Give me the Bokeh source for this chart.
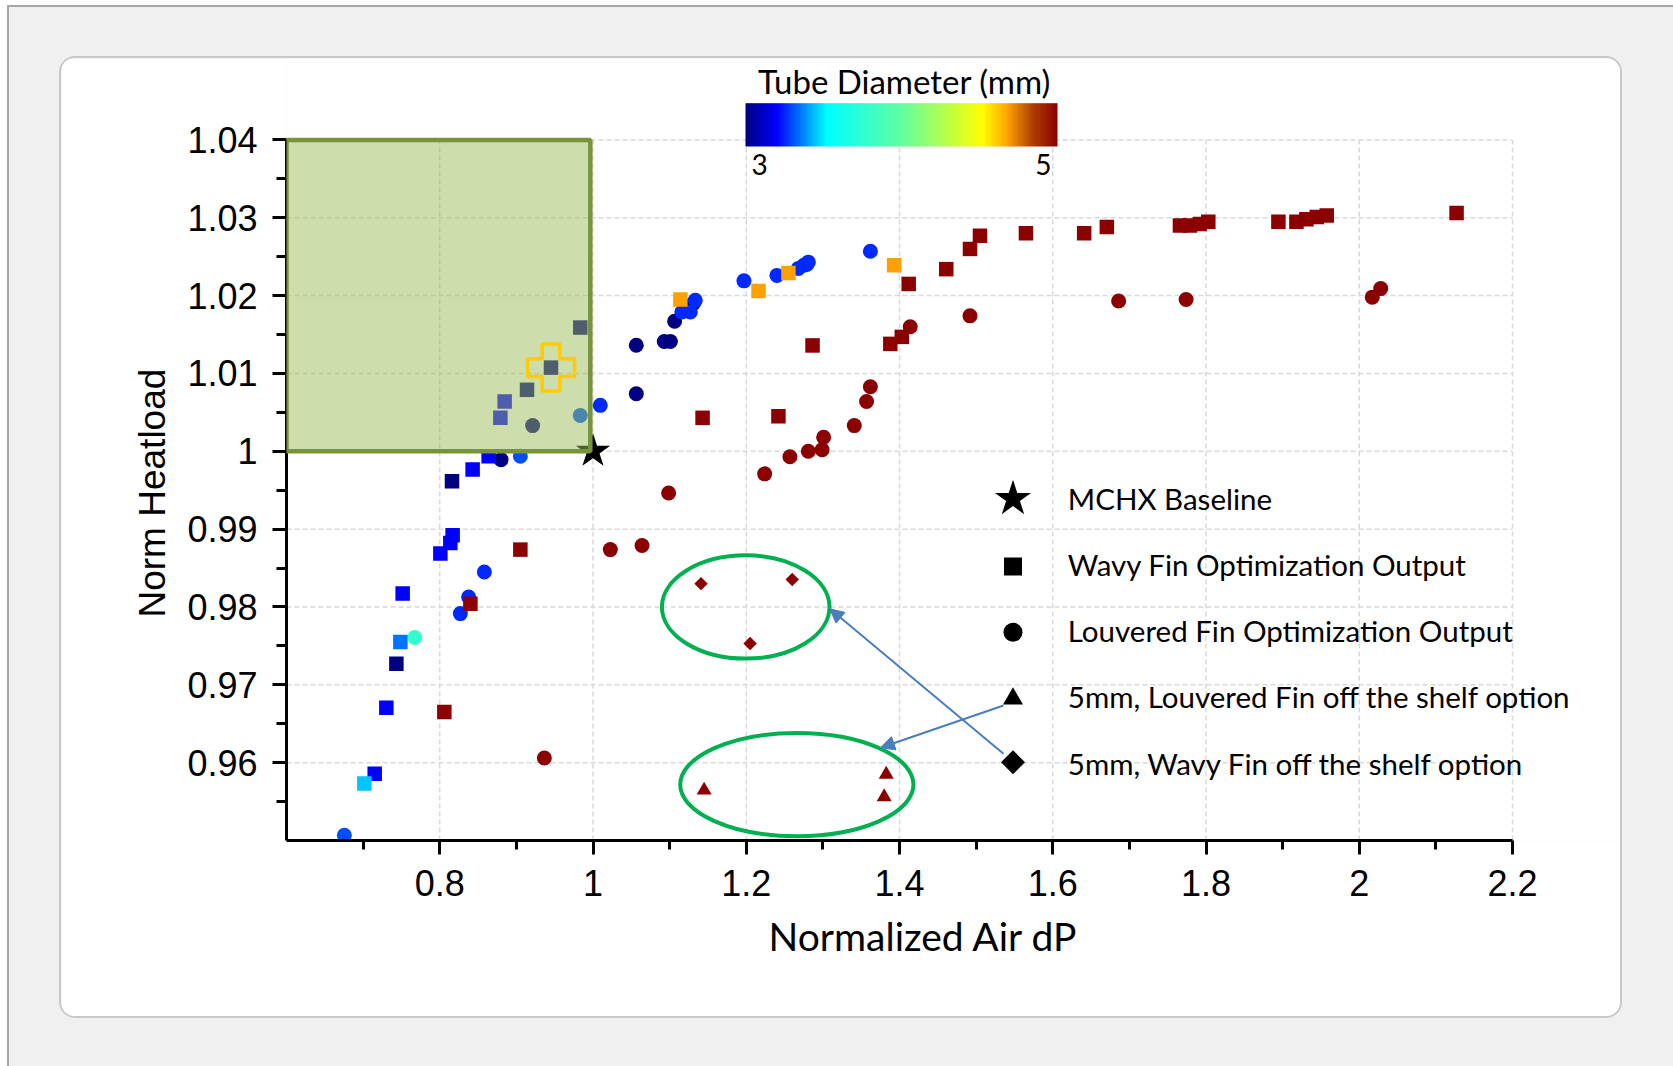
import numpy as np
from bokeh.plotting import figure
from bokeh.layouts import column
from bokeh.models import (ColumnDataSource, LinearColorMapper, FixedTicker, BoxAnnotation,
                          Label, Arrow, NormalHead, CustomJSTickFormatter, Title)
from bokeh.transform import transform
from bokeh.embed import file_html
from bokeh.resources import INLINE

# ---------------- data ----------------
# Wavy fin optimization output (squares): normalized air dP, normalized heat load, tube diameter (mm)
wavy_x = [0.9834, 0.9452, 0.9139, 0.8847, 0.8791, 0.8638, 0.8429, 0.8160, 0.8168, 0.8138,
          0.8008, 0.7516, 0.7486, 0.7434, 0.7303, 0.7151, 0.7016,
          1.114, 1.216, 1.255, 1.393,
          0.806, 0.840, 0.9052, 1.143, 1.242, 1.2865, 1.388, 1.403, 1.412, 1.461,
          1.492, 1.505, 1.565, 1.641, 1.6706, 1.766, 1.779, 1.792, 1.803, 1.8945,
          1.918, 1.931, 1.9445, 1.9576, 2.127]
wavy_y = [1.0159, 1.01075, 1.0079, 1.0064, 1.0043, 0.99936, 0.99765, 0.99615, 0.98921, 0.98822,
          0.98686, 0.98172, 0.9755, 0.97272, 0.96707, 0.95859, 0.95731,
          1.0195, 1.0206, 1.0229, 1.0239,
          0.96651, 0.98043, 0.98737, 1.0043, 1.0045, 1.0136, 1.0138, 1.0147, 1.0215, 1.0234,
          1.0260, 1.0277, 1.0280, 1.0280, 1.0288, 1.0290, 1.0290, 1.0292, 1.0295, 1.0295,
          1.0295, 1.0298, 1.0301, 1.0303, 1.0306]
wavy_d = [3.0, 3.0, 3.0, 3.2, 3.2, 3.2, 3.2, 3.0, 3.2, 3.2,
          3.2, 3.2, 3.35, 3.0, 3.2, 3.2, 3.45,
          4.68, 4.68, 4.68, 4.68,
          5.0, 5.0, 5.0, 5.0, 5.0, 5.0, 5.0, 5.0, 5.0, 5.0,
          5.0, 5.0, 5.0, 5.0, 5.0, 5.0, 5.0, 5.0, 5.0, 5.0,
          5.0, 5.0, 5.0, 5.0, 5.0]

# Louvered fin optimization output (circles)
louv_x = [0.9212, 0.880, 1.0565, 1.0565, 1.093, 1.101, 1.1065, 1.131,
          0.9052, 1.0095, 0.8582, 0.8377, 0.8269, 1.116, 1.127, 1.1335, 1.197, 1.240,
          1.268, 1.275, 1.281, 1.279, 1.362, 0.6755,
          0.9834, 0.7673,
          0.9365, 1.0226, 1.064, 1.0987, 1.224, 1.257, 1.281, 1.299, 1.301, 1.341,
          1.357, 1.362, 1.414, 1.492, 1.686, 1.774, 2.017, 2.028]
louv_y = [1.0033, 0.99893, 1.0074, 1.01362, 1.0141, 1.0141, 1.0167, 1.0190,
          0.99936, 1.0059, 0.98449, 0.98128, 0.97915, 1.0179, 1.0179, 1.0194, 1.0219, 1.0226,
          1.0235, 1.0239, 1.0243, 1.0240, 1.0257, 0.95067,
          1.0046, 0.97607,
          0.9606, 0.98737, 0.98789, 0.99464, 0.9971, 0.9993, 1.0000, 1.0002, 1.0018, 1.0033,
          1.0064, 1.0083, 1.0160, 1.0174, 1.0193, 1.0195, 1.0198, 1.0209]
louv_d = [3.0, 3.0, 3.0, 3.0, 3.0, 3.0, 3.0, 3.0,
          3.3, 3.25, 3.25, 3.25, 3.25, 3.25, 3.25, 3.25, 3.25, 3.25,
          3.25, 3.25, 3.25, 3.25, 3.25, 3.3,
          3.3, 3.78,
          5.0, 5.0, 5.0, 5.0, 5.0, 5.0, 5.0, 5.0, 5.0, 5.0,
          5.0, 5.0, 5.0, 5.0, 5.0, 5.0, 5.0, 5.0]

# 5 mm off-the-shelf options
shelf_louv_x = [1.145, 1.3827, 1.380]
shelf_louv_y = [0.95645, 0.9585, 0.9556]
shelf_louv_d = [5.0, 5.0, 5.0]
shelf_wavy_x = [1.141, 1.260, 1.205]
shelf_wavy_y = [0.9830, 0.98352, 0.9753]
shelf_wavy_d = [5.0, 5.0, 5.0]

# MCHX baseline and the selected design
baseline_x = [1.0]
baseline_y = [1.0]
selected_x = [0.9452]
selected_y = [1.01075]

# axes
x_ticks = [0.8, 1.0, 1.2, 1.4, 1.6, 1.8, 2.0, 2.2]
x_tick_labels = ["0.8", "1", "1.2", "1.4", "1.6", "1.8", "2", "2.2"]
x_minor = [0.7, 0.9, 1.1, 1.3, 1.5, 1.7, 1.9, 2.1]
y_ticks = [0.96, 0.97, 0.98, 0.99, 1.0, 1.01, 1.02, 1.03, 1.04]
y_tick_labels = ["0.96", "0.97", "0.98", "0.99", "1", "1.01", "1.02", "1.03", "1.04"]
y_minor = [0.955, 0.965, 0.975, 0.985, 0.995, 1.005, 1.015, 1.025, 1.035]
x_title = "Normalized Air dP"
y_title = "Norm Heatload"

diam_low, diam_high = 3, 5
diam_title = "Tube Diameter (mm)"
legend_labels = ["MCHX Baseline", "Wavy Fin Optimization Output", "Louvered Fin Optimization Output",
                 "5mm, Louvered Fin off the shelf option", "5mm, Wavy Fin off the shelf option"]
legend_markers = ["star", "square", "circle", "triangle", "square"]

# target region (air dP <= baseline, heat load >= baseline)
target_left, target_right, target_bottom, target_top = 0.6, 0.9965, 1.0, 1.04

# ---------------- layout geometry (page pixels) ----------------
PAGE_W, PAGE_H = 1673, 1066
PANEL_L, PANEL_T, PANEL_R, PANEL_B = 61, 58, 1620, 1016     # white rounded panel = the figure
FRAME_L, FRAME_B = 286, 840                                # plot area left / bottom on the page
X0, X_AXIS_END = 0.6, 2.2
Y0, Y_AXIS_END = 0.95, 1.04
PXX = 766.25                       # pixels per unit of air dP
PXY = 7784.0                       # pixels per unit of heat load
FIG_W, FIG_H = PANEL_R - PANEL_L, PANEL_B - PANEL_T
X1 = X0 + (PANEL_R - FRAME_L) / PXX
Y1 = Y0 + (FRAME_B - PANEL_T) / PXY


def dx(px):            # page x -> data x
    return X0 + (px - FRAME_L) / PXX


def dy(py):            # page y -> data y
    return Y0 + (FRAME_B - py) / PXY


# ---------------- colour map ----------------
STOPS = [(0.00, "#000080"), (0.10, "#0000ff"), (0.26, "#00ffff"), (0.50, "#60ffa0"),
         (0.76, "#ffff00"), (0.84, "#ffa500"), (0.92, "#b04000"), (1.00, "#8b0000")]


def build_palette(stops, n=256):
    pos = np.array([s[0] for s in stops])
    rgb = np.array([[int(c[i:i + 2], 16) for i in (1, 3, 5)] for _, c in stops], float)
    t = np.linspace(0, 1, n)
    ch = [np.interp(t, pos, rgb[:, k]) for k in range(3)]
    return ["#%02x%02x%02x" % (int(round(ch[0][i])), int(round(ch[1][i])), int(round(ch[2][i])))
            for i in range(n)]


mapper = LinearColorMapper(palette=build_palette(STOPS), low=diam_low, high=diam_high)

# ---------------- figure ----------------
fig = figure(width=FIG_W, height=FIG_H, x_range=(X0, X1), y_range=(Y0, Y1),
             output_backend="svg", toolbar_location=None,
             min_border_left=FRAME_L - PANEL_L, min_border_right=0, min_border_top=0,
             min_border_bottom=PANEL_B - FRAME_B)
fig.border_fill_color = "white"
fig.background_fill_color = "white"
fig.outline_line_color = None
fig.styles = {"border-radius": "14px", "overflow": "hidden", "box-shadow": "0 0 0 2px #c8c8c8"}

# axes
fmt_x = CustomJSTickFormatter(args=dict(vals=x_ticks, labels=x_tick_labels),
                              code="const i = vals.indexOf(tick); return i >= 0 ? labels[i] : '';")
fmt_y = CustomJSTickFormatter(args=dict(vals=y_ticks, labels=y_tick_labels),
                              code="const i = vals.indexOf(tick); return i >= 0 ? labels[i] : '';")
fig.xaxis.ticker = FixedTicker(ticks=x_ticks, minor_ticks=x_minor)
fig.yaxis.ticker = FixedTicker(ticks=y_ticks, minor_ticks=y_minor)
fig.xaxis.formatter = fmt_x
fig.yaxis.formatter = fmt_y
fig.xaxis.bounds = (X0, X_AXIS_END)
fig.yaxis.bounds = (Y0, Y_AXIS_END)
for ax in (fig.xaxis, fig.yaxis):
    ax.axis_line_width = 3
    ax.axis_line_color = "black"
    ax.major_tick_line_width = 3
    ax.minor_tick_line_width = 3
    ax.major_tick_in = 0
    ax.minor_tick_in = 0
    ax.major_tick_out = 14
    ax.major_label_text_font = "Liberation Sans"
    ax.major_label_text_font_size = "36px"
    ax.major_label_text_color = "black"
fig.xaxis.minor_tick_out = 9
fig.yaxis.minor_tick_out = 10
fig.xaxis.major_label_standoff = 15
fig.yaxis.major_label_standoff = 15

# axis titles, offset from the start of the plot area
fig.add_layout(Title(text=x_title, align="left", offset=482, vertical_align="bottom",
                     text_font="Lato", text_font_size="39px", text_font_style="normal",
                     text_color="black", standoff=24), "below")
fig.add_layout(Title(text=y_title, align="left", offset=223, vertical_align="bottom",
                     text_font="Liberation Sans", text_font_size="37px", text_font_style="normal",
                     text_color="black", standoff=23), "left")

# grid: dashed lines at the major ticks, limited to the axis extent
fig.xgrid.visible = False
fig.ygrid.visible = False
grid_style = dict(line_color="#d9d9d9", line_dash="5 3", line_width=1.5, level="underlay")
fig.segment(x0=x_ticks, y0=Y0, x1=x_ticks, y1=Y_AXIS_END, **grid_style)
fig.segment(x0=X0, y0=y_ticks, x1=X_AXIS_END, y1=y_ticks, **grid_style)

# colour scale bar
fig.image(image=[np.linspace(diam_low, diam_high, 256)[None, :]], x=dx(745), y=dy(146),
          dw=dx(1057) - dx(745), dh=dy(102.7) - dy(146), color_mapper=mapper)


def add_text(px, baseline_py, text, size, align="left"):
    # label anchored on its vertical middle; placed from the wanted baseline position
    fig.add_layout(Label(x=dx(px), y=dy(baseline_py - 0.39 * size), text=text, text_align=align,
                         text_baseline="middle", text_font="Lato", text_font_size=f"{size}px",
                         text_color="black"))


add_text(904, 93, diam_title, 33, align="center")
add_text(751, 175, str(diam_low), 28, align="left")
add_text(1051, 175, str(diam_high), 28, align="right")

# data series
wavy_src = ColumnDataSource(dict(x=wavy_x, y=wavy_y, d=wavy_d))
louv_src = ColumnDataSource(dict(x=louv_x, y=louv_y, d=louv_d))
slouv_src = ColumnDataSource(dict(x=shelf_louv_x, y=shelf_louv_y, d=shelf_louv_d))
swavy_src = ColumnDataSource(dict(x=shelf_wavy_x, y=shelf_wavy_y, d=shelf_wavy_d))

fig.scatter("x", "y", source=louv_src, marker="circle", size=15,
            fill_color=transform("d", mapper), line_color=None)
fig.scatter("x", "y", source=wavy_src, marker="square", size=14.5,
            fill_color=transform("d", mapper), line_color=None)
fig.scatter("x", "y", source=slouv_src, marker="triangle", size=15,
            fill_color=transform("d", mapper), line_color=None)
fig.scatter("x", "y", source=swavy_src, marker="square", angle=np.pi / 4, size=9.5,
            fill_color=transform("d", mapper), line_color=None)
fig.scatter(baseline_x, baseline_y, marker="star", size=36, fill_color="black", line_color=None)

# target region
fig.add_layout(BoxAnnotation(left=target_left, right=target_right, bottom=target_bottom, top=target_top,
                             fill_color="#9bbb59", fill_alpha=0.5, line_color="#77933c",
                             line_width=4.5, line_alpha=1.0))

# highlight of the selected design
fig.scatter(selected_x, selected_y, marker="plus", size=47, fill_alpha=0, line_color="#ffcc00",
            line_width=3.5, level="overlay")

# call-out ellipses around the off-the-shelf options
ell_x = [1.1993, 1.266]
ell_y = [0.9800, 0.95718]
ell_w = [0.2187, 0.3044]
ell_h = [0.01327, 0.01327]
fig.ellipse(x=ell_x, y=ell_y, width=ell_w, height=ell_h, fill_color=None,
            line_color="#00b050", line_width=4)

# legend
leg_cx = 1012.5
leg_marker_cy = [498.3, 566.0, 631.7, 698.3, 761.7]
leg_marker_size = [38, 18, 19, 20, 17]
leg_marker_angle = [0, 0, 0, 0, np.pi / 4]
for m, cy, s, a in zip(legend_markers, leg_marker_cy, leg_marker_size, leg_marker_angle):
    fig.scatter([dx(leg_cx)], [dy(cy)], marker=m, size=s, angle=a, fill_color="black", line_color=None)
for i, txt in enumerate(legend_labels):
    add_text(1067.3, 509.3 + 66.2 * i, txt, 29.5)

# arrows from the legend to the call-outs
arrow_color = "#4a7ebb"
fig.add_layout(Arrow(end=NormalHead(size=14, fill_color=arrow_color, line_color=arrow_color),
                     x_start=dx(1003), y_start=dy(753.3), x_end=dx(829.3), y_end=dy(608.3),
                     line_color=arrow_color, line_width=2))
fig.add_layout(Arrow(end=NormalHead(size=14, fill_color=arrow_color, line_color=arrow_color),
                     x_start=dx(1003), y_start=dy(705), x_end=dx(880), y_end=dy(747.3),
                     line_color=arrow_color, line_width=2))

# page: light grey surround with a thin darker edge, holding the white panel
p = column(fig, styles={"background-color": "#f0f0f0",
                        "border-left": "2px solid #a6a6a6", "border-top": "2px solid #a6a6a6",
                        "margin-left": "7px", "margin-top": "5px",
                        "padding-left": f"{PANEL_L - 9}px", "padding-top": f"{PANEL_T - 7}px",
                        "padding-right": f"{PAGE_W - PANEL_R}px", "padding-bottom": f"{PAGE_H - PANEL_B}px"})

open("out.html", "w").write(file_html(p, INLINE))
